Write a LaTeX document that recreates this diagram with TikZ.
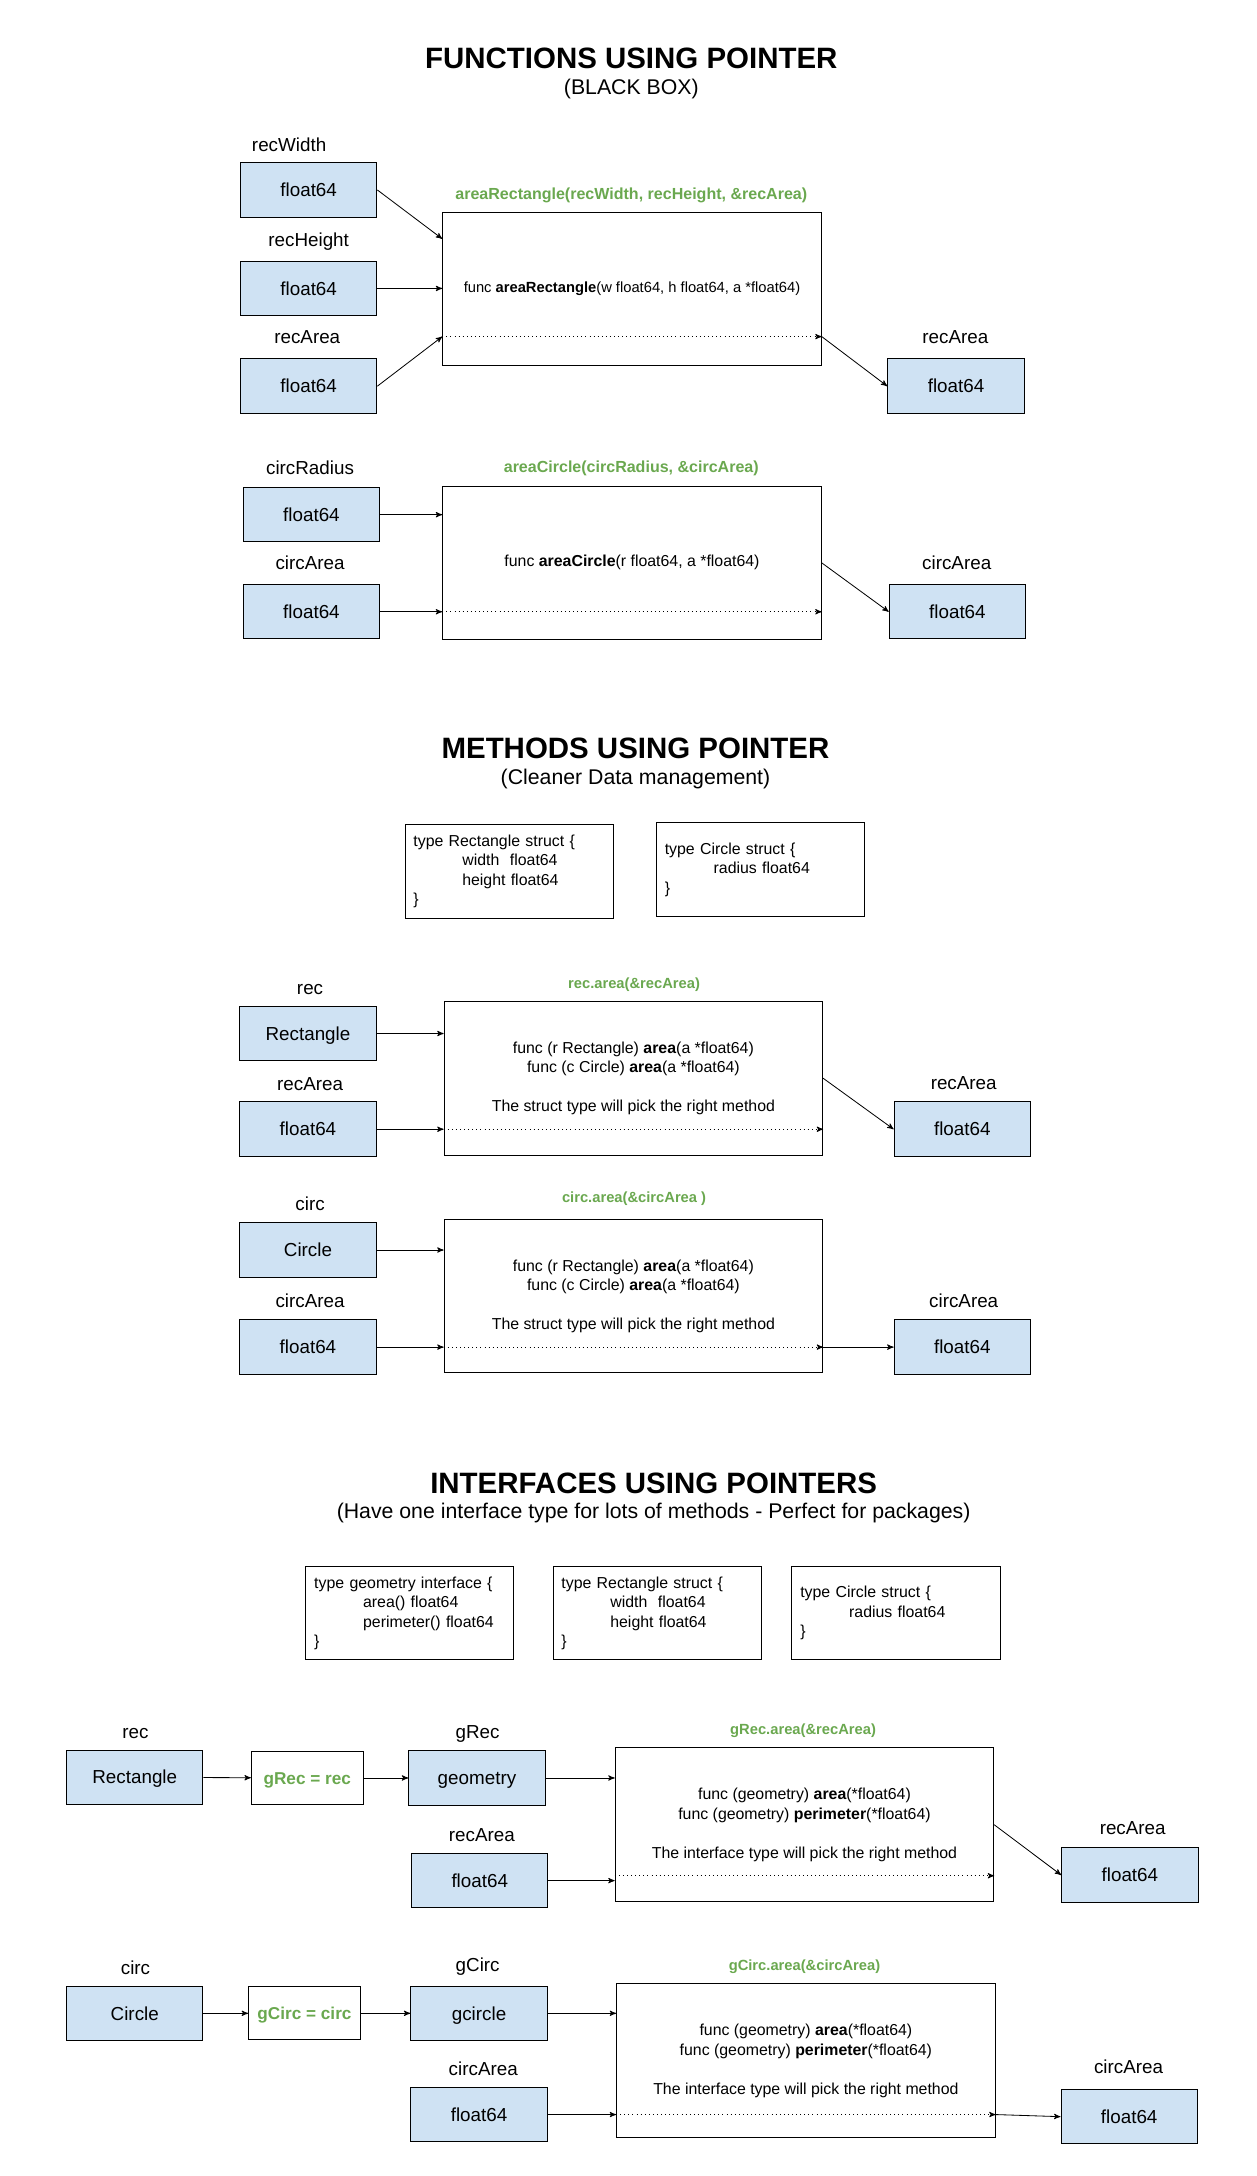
\documentclass[tikz,border=0pt]{standalone}
\usepackage{fontspec}
\setmainfont{Liberation Sans}
\usepackage{xcolor}
\usepackage{tikz}
\usetikzlibrary{arrows,positioning}

\definecolor{boxblue}{HTML}{CFE2F3}
\definecolor{callgreen}{HTML}{6AA84F}

\begin{document}
\begin{tikzpicture}
    [
      x=0.03cm, y=-0.03cm,
      heading/.style={font=\fontsize{18}{21}\selectfont\bfseries},
      subheading/.style={font=\fontsize{13}{15}\selectfont},
      varname/.style={font=\fontsize{11.5}{13.8}\selectfont, text height=8.2pt, text depth=0pt},
      var/.style={draw, line width=0.6pt, fill=boxblue, minimum width=2.93cm, minimum height=1.17cm, inner sep=0pt, font=\fontsize{11.5}{13.8}\selectfont, text height=8.2pt, text depth=0pt},
      hold/.style={draw, line width=0.6pt, minimum width=2.4cm, minimum height=1.14cm, inner sep=0pt, text=callgreen, font=\fontsize{10.5}{12.6}\selectfont\bfseries, text height=7.6pt, text depth=0pt},
      func/.style={draw, line width=0.6pt, minimum width=8.13cm, minimum height=3.3cm, align=center, font=\fontsize{9.7}{11.9}\selectfont},
      call/.style={text=callgreen, font=\fontsize{9}{11}\selectfont\bfseries},
      bigcall/.style={call, font=\fontsize{9.8}{12}\selectfont\bfseries},
      code/.style={draw, line width=0.6pt, minimum width=4.47cm, minimum height=2.0cm, inner xsep=0.18cm, text width=4.11cm, align=left, font=\fontsize{9.7}{11.9}\selectfont},
      post/.style={->,>=stealth',line width=0.5pt},
      ret/.style={post,dotted},
    ]
    \useasboundingbox (0,0) rectangle (900,1558);

    % functions
    \node (t-func) [heading] at (452,42) {FUNCTIONS USING POINTER};
    \node (s-func) [subheading] at (452,64) {(BLACK BOX)};

    \node (w-name) [varname] at (207,104) {recWidth};
    \node (w) [var] at (221,136) {float64};
    \node (h-name) [varname] at (221,172) {recHeight};
    \node (h) [var] at (221,206.5) {float64};
    \node (a-name) [varname] at (220,241) {recArea};
    \node (a) [var] at (221,276.5) {float64};
    \node (fr) [func, font=\fontsize{9}{11}\selectfont] at (452.5,207) {func \textbf{areaRectangle}(w float64, h float64, a *float64)};
    \node (fr-call) [bigcall] at (452,140) {areaRectangle(recWidth, recHeight, \&recArea)};
    \node (ro-name) [varname] at (684,241) {recArea};
    \node (ro) [var] at (684.5,276.5) {float64};

    \coordinate (fr-in) at (fr.west |- 0,171);
    \coordinate (fr-ret) at (fr.west |- 0,241);
    \path
    (w.east) edge [post] (fr-in)
    (h) edge [post] (h -| fr.west)
    (a.east) edge [post] (fr-ret)
    (fr-ret) edge [ret] (fr-ret -| fr.east)
    (fr-ret -| fr.east) edge [post] (ro.west)
    ;

    \node (r-name) [varname] at (222,335) {circRadius};
    \node (r) [var] at (223,368.5) {float64};
    \node (ca-name) [varname] at (222,403) {circArea};
    \node (ca) [var] at (223,438) {float64};
    \node (fc) [func] at (452.5,403) {func \textbf{areaCircle}(r float64, a *float64)};
    \node (fc-call) [bigcall] at (452,335) {areaCircle(circRadius, \&circArea)};
    \node (co-name) [varname] at (685,403) {circArea};
    \node (co) [var] at (685.5,438) {float64};

    \coordinate (fc-ret) at (fc.west |- ca);
    \path
    (r) edge [post] (r -| fc.west)
    (ca) edge [post] (fc-ret)
    (fc-ret) edge [ret] (fc-ret -| fc.east)
    (fc.east) edge [post] (co.west)
    ;

    % methods
    \node (t-meth) [heading] at (455,536) {METHODS USING POINTER};
    \node (s-meth) [subheading] at (455,558) {(Cleaner Data management)};
    \node (rect-type) [code] at (364.5,624) {type Rectangle struct \{\\ \hspace*{1.05cm}width~ float64\\ \hspace*{1.05cm}height float64\\ \}};
    \node (circ-type) [code] at (544.5,622.5) {type Circle struct \{\\ \hspace*{1.05cm}radius float64\\ \}};

    \node (rec-name) [varname] at (222,707) {rec};
    \node (rec) [var] at (220.5,740) {Rectangle};
    \node (mra-name) [varname] at (222,776) {recArea};
    \node (mra) [var] at (220.5,808.5) {float64};
    \node (mr) [func] at (453.5,772) {func (r Rectangle) \textbf{area}(a *float64)\\ func (c Circle) \textbf{area}(a *float64)\\[11.9pt] The struct type will pick the right method};
    \node (mr-call) [call] at (454,705) {rec.area(\&recArea)};
    \node (mro-name) [varname] at (690,775) {recArea};
    \node (mro) [var] at (689,808.5) {float64};

    \coordinate (mr-ret) at (mr.west |- mra);
    \path
    (rec) edge [post] (rec -| mr.west)
    (mra) edge [post] (mr-ret)
    (mr-ret) edge [ret] (mr-ret -| mr.east)
    (mr.east) edge [post] (mro.west)
    ;

    \node (circ-name) [varname] at (222,862) {circ};
    \node (circ) [var] at (220.5,895) {Circle};
    \node (mca-name) [varname] at (222,931) {circArea};
    \node (mca) [var] at (220.5,964.5) {float64};
    \node (mc) [func] at (453.5,928) {func (r Rectangle) \textbf{area}(a *float64)\\ func (c Circle) \textbf{area}(a *float64)\\[11.9pt] The struct type will pick the right method};
    \node (mc-call) [call] at (454,858) {circ.area(\&circArea )};
    \node (mco-name) [varname] at (690,931) {circArea};
    \node (mco) [var] at (689,964.5) {float64};

    \coordinate (mc-ret) at (mc.west |- mca);
    \path
    (circ) edge [post] (circ -| mc.west)
    (mca) edge [post] (mc-ret)
    (mc-ret) edge [ret] (mc-ret -| mc.east)
    (mc-ret -| mc.east) edge [post] (mco.west)
    ;

    % interfaces
    \node (t-intf) [heading] at (468,1062) {INTERFACES USING POINTERS};
    \node (s-intf) [subheading] at (468,1083) {(Have one interface type for lots of methods - Perfect for packages)};
    \node (geo-type) [code] at (293.5,1155) {type geometry interface \{\\ \hspace*{1.05cm}area() float64\\ \hspace*{1.05cm}perimeter() float64\\ \}};
    \node (rect-type2) [code] at (470.5,1155) {type Rectangle struct \{\\ \hspace*{1.05cm}width~ float64\\ \hspace*{1.05cm}height float64\\ \}};
    \node (circ-type2) [code] at (641.5,1155) {type Circle struct \{\\ \hspace*{1.05cm}radius float64\\ \}};

    \node (irec-name) [varname] at (97,1240) {rec};
    \node (irec) [var] at (96.5,1272.5) {Rectangle};
    \node (grec-set) [hold] at (220,1273) {gRec = rec};
    \node (grec-name) [varname] at (342,1240) {gRec};
    \node (grec) [var] at (341.5,1273) {geometry};
    \node (ira-name) [varname] at (345,1314) {recArea};
    \node (ira) [var] at (343.5,1346.5) {float64};
    \node (ir) [func] at (576,1306.5) {func (geometry) \textbf{area}(*float64)\\ func (geometry) \textbf{perimeter}(*float64)\\[11.9pt] The interface type will pick the right method};
    \node (ir-call) [call] at (575,1239) {gRec.area(\&recArea)};
    \node (iro-name) [varname] at (811,1309) {recArea};
    \node (iro) [var] at (809,1342.5) {float64};

    \coordinate (ir-ret) at (ir.west |- 0,1343);
    \path
    (irec) edge [post] (grec-set)
    (grec-set) edge [post] (grec)
    (grec) edge [post] (grec -| ir.west)
    (ira) edge [post] (ira -| ir.west)
    (ir-ret) edge [ret] (ir-ret -| ir.east)
    (ir.east) edge [post] (iro.west)
    ;

    \node (icirc-name) [varname] at (97,1409) {circ};
    \node (icirc) [var] at (96.5,1441.5) {Circle};
    \node (gcirc-set) [hold] at (218,1441.5) {gCirc = circ};
    \node (gcirc-name) [varname] at (342,1407) {gCirc};
    \node (gcirc) [var] at (343,1441.5) {gcircle};
    \node (ica-name) [varname] at (346,1481) {circArea};
    \node (ica) [var] at (343,1514) {float64};
    \node (ic) [func] at (577,1475.5) {func (geometry) \textbf{area}(*float64)\\ func (geometry) \textbf{perimeter}(*float64)\\[11.9pt] The interface type will pick the right method};
    \node (ic-call) [call] at (576,1408) {gCirc.area(\&circArea)};
    \node (ico-name) [varname] at (808,1480) {circArea};
    \node (ico) [var] at (808.5,1515.5) {float64};

    \coordinate (ic-ret) at (ic.west |- ica);
    \path
    (icirc) edge [post] (gcirc-set)
    (gcirc-set) edge [post] (gcirc)
    (gcirc) edge [post] (gcirc -| ic.west)
    (ica) edge [post] (ic-ret)
    (ic-ret) edge [ret] (ic-ret -| ic.east)
    (ic-ret -| ic.east) edge [post] (ico.west)
    ;

\end{tikzpicture}
\end{document}
